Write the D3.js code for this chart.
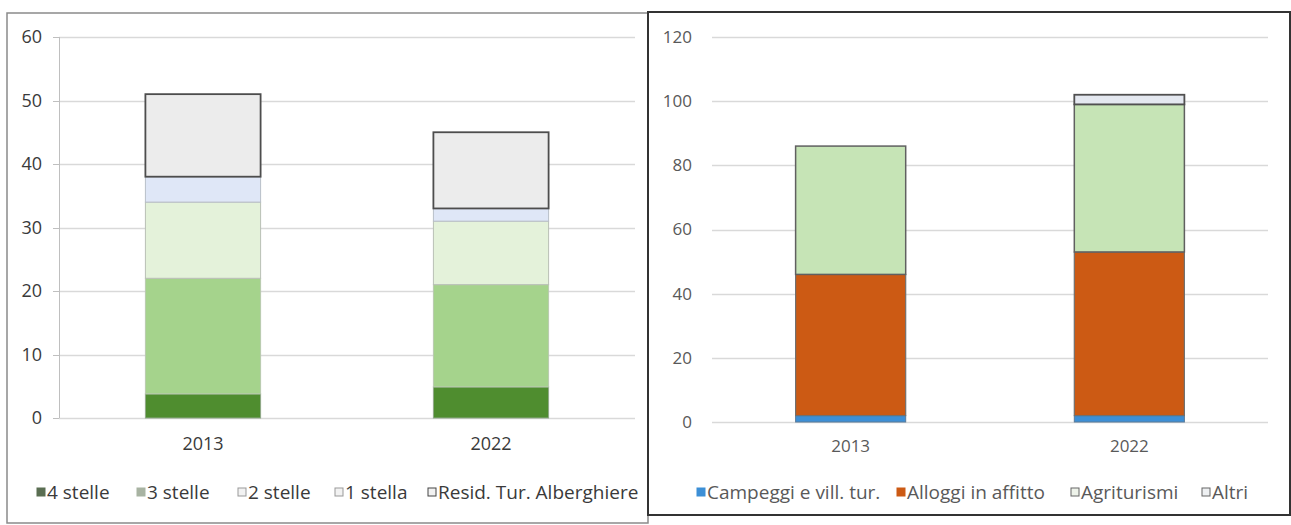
<!DOCTYPE html>
<html><head><meta charset="utf-8">
<script src="https://cdn.jsdelivr.net/npm/d3@7"></script>
<style>body{margin:0;background:#fff}svg{display:block}text{font-family:"Open Sans",Lato,sans-serif}</style>
</head><body>
<svg id="c" width="1291" height="525"></svg>
<script>
// ---- data ----
const categories = ["2013", "2022"];
const leftSeries = ["4 stelle", "3 stelle", "2 stelle", "1 stella", "Resid. Tur. Alberghiere"];
const left4 = [3.8, 4.9];
const left3 = [18.2, 16.1];
const left2 = [12, 10];
const left1 = [4, 2];
const leftResid = [13, 12];
const leftTicks = [0, 10, 20, 30, 40, 50, 60];

const rightSeries = ["Campeggi e vill. tur.", "Alloggi in affitto", "Agriturismi", "Altri"];
const rightCamp = [2, 2];
const rightAlloggi = [44, 51];
const rightAgri = [40, 46];
const rightAltri = [0, 3];
const rightTicks = [0, 20, 40, 60, 80, 100, 120];

const svg = d3.select("#c");
const FONT = "'Open Sans', Lato, sans-serif";

// frames
svg.append("rect").attr("x", 7).attr("y", 13).attr("width", 641).attr("height", 510)
  .attr("fill", "none").attr("stroke", "#8a8a8a").attr("stroke-width", 1.5);
svg.append("rect").attr("x", 648).attr("y", 12).attr("width", 642).attr("height", 503)
  .attr("fill", "none").attr("stroke", "#333").attr("stroke-width", 2);

function panel(cfg) {
  const g = svg.append("g");
  const y = d3.scaleLinear().domain(cfg.domain).range(cfg.yRange);
  const x = d3.scaleBand().domain(categories).range(cfg.xRange).paddingInner(cfg.pi).paddingOuter(cfg.po);
  // gridlines
  g.append("g").selectAll("line").data(cfg.ticks).join("line")
    .attr("x1", cfg.xRange[0]).attr("x2", cfg.xRange[1])
    .attr("y1", d => Math.round(y(d)) + 0.5).attr("y2", d => Math.round(y(d)) + 0.5)
    .attr("stroke", "#d9d9d9").attr("stroke-width", 1.3);
  if (cfg.axisLine) {
    g.append("line").attr("x1", cfg.xRange[0] + 0.5).attr("x2", cfg.xRange[0] + 0.5)
      .attr("y1", y(cfg.domain[1])).attr("y2", y(0)).attr("stroke", "#bfbfbf");
    g.append("g").selectAll("line").data(cfg.ticks).join("line")
      .attr("x1", cfg.xRange[0] - 6).attr("x2", cfg.xRange[0])
      .attr("y1", d => Math.round(y(d)) + 0.5).attr("y2", d => Math.round(y(d)) + 0.5)
      .attr("stroke", "#bfbfbf");
  }
  // y axis labels
  const ya = d3.axisLeft(y).tickValues(cfg.ticks).tickSize(0).tickPadding(0);
  const yg = g.append("g").attr("transform", `translate(${cfg.labelX},0)`).call(ya);
  yg.select(".domain").remove();
  yg.selectAll("text").attr("font-size", cfg.fs).attr("fill", cfg.textColor).attr("font-family", FONT);
  // x axis labels
  const xa = d3.axisBottom(x).tickSize(0).tickPadding(0);
  const xg = g.append("g").attr("transform", `translate(0,${cfg.catY})`).call(xa);
  xg.select(".domain").remove();
  xg.selectAll("text").attr("font-size", cfg.fs).attr("fill", cfg.textColor).attr("font-family", FONT);
  // stacked bars
  const rows = categories.map((c, i) => {
    const o = { cat: c };
    cfg.series.forEach((s, j) => o[s] = cfg.values[j][i]);
    return o;
  });
  const stack = d3.stack().keys(cfg.series)(rows);
  stack.forEach((layer, j) => {
    g.append("g").selectAll("rect").data(layer).join("rect")
      .attr("x", d => x(d.data.cat))
      .attr("width", x.bandwidth())
      .attr("y", d => y(d[1]))
      .attr("height", d => Math.max(0, y(d[0]) - y(d[1])))
      .attr("fill", cfg.colors[j])
      .attr("stroke", cfg.strokes[j])
      .attr("stroke-width", cfg.strokeW[j]);
  });
  // legend
  const lg = g.append("g");
  cfg.series.forEach((s, j) => {
    const lx = cfg.legendXs[j];
    lg.append("rect").attr("x", lx).attr("y", cfg.legendY - 11).attr("width", 8).attr("height", 8)
      .attr("fill", cfg.swatch[j]).attr("stroke", cfg.swatchStroke[j]).attr("stroke-width", 1);
    lg.append("text").attr("x", lx + 10).attr("y", cfg.legendY)
      .attr("font-size", cfg.legendFs).attr("fill", cfg.textColor).attr("font-family", FONT).text(s);
  });
}

panel({
  domain: [0, 60], yRange: [418, 37], xRange: [59, 635], pi: 0.6, po: 0.3,
  ticks: leftTicks, axisLine: true, labelX: 42, catY: 437, fs: 18, textColor: "#3a3a3a",
  series: leftSeries, values: [left4, left3, left2, left1, leftResid],
  colors: ["#4f8d2f", "#a5d38c", "#e4f2da", "#dfe7f7", "#ececec"],
  strokes: ["#8fa888", "#b9c9b0", "#b8bfb5", "#b8bfc8", "#4d4d4d"],
  strokeW: [1, 1, 1, 1, 1.8],
  swatch: ["#5a6e52", "#a8b3a2", "#f2f2f2", "#f2f2f2", "#f2f2f2"],
  swatchStroke: ["#5a6e52", "#a8b3a2", "#999", "#999", "#444"],
  legendXs: [37, 137, 238, 335, 428], legendY: 499, legendFs: 19
});

panel({
  domain: [0, 120], yRange: [422, 37], xRange: [712, 1268], pi: 0.605, po: 0.3,
  ticks: rightTicks, axisLine: false, labelX: 692, catY: 440, fs: 17, textColor: "#595959",
  series: rightSeries, values: [rightCamp, rightAlloggi, rightAgri, rightAltri],
  colors: ["#3d8fd6", "#cc5a14", "#c6e4b6", "#e4e8f0"],
  strokes: ["#5a7a99", "#707070", "#606060", "#505050"],
  strokeW: [1, 1.2, 1.5, 1.8],
  swatch: ["#3d8fd6", "#cc5a14", "#eef3ea", "#eef0f2"],
  swatchStroke: ["#3d8fd6", "#cc5a14", "#666", "#666"],
  legendXs: [697, 897, 1071, 1202], legendY: 499, legendFs: 19
});
</script>
</body></html>
